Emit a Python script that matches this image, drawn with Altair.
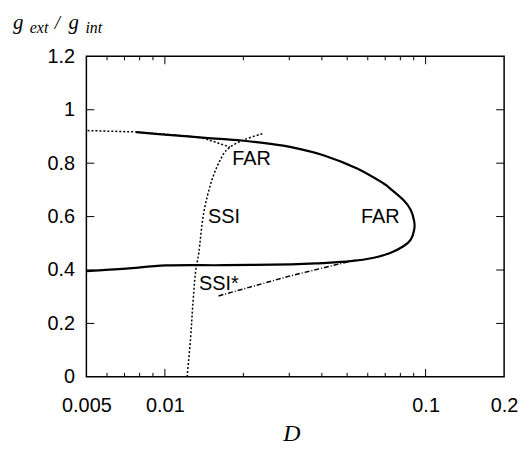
import altair as alt
import pandas as pd

# ---- data ----
far_x = [0.00776, 0.0100, 0.01429, 0.01968, 0.0250, 0.0305, 0.0408, 0.0546, 0.0690, 0.0731,
         0.0822, 0.0877, 0.0904, 0.0904, 0.0877, 0.0822, 0.0731, 0.0633, 0.0515, 0.0400,
         0.0305, 0.0170, 0.0101, 0.0071, 0.0050]
far_y = [0.916, 0.907, 0.895, 0.885, 0.873, 0.860, 0.829, 0.780, 0.724, 0.705,
         0.662, 0.625, 0.582, 0.551, 0.514, 0.489, 0.464, 0.446, 0.433, 0.426,
         0.421, 0.418, 0.417, 0.405, 0.396]

ssi_x = [0.01217, 0.01254, 0.01279, 0.01310, 0.01349, 0.01409, 0.01514, 0.01652, 0.01778, 0.0203, 0.02378]
ssi_y = [0.0, 0.142, 0.266, 0.390, 0.464, 0.613, 0.736, 0.823, 0.860, 0.889, 0.911]

ssitop_x = [0.00505, 0.0077, 0.0095, 0.01200, 0.01387, 0.0156, 0.01778]
ssitop_y = [0.922, 0.917, 0.910, 0.902, 0.895, 0.879, 0.860]

ssistar_x = [0.01606, 0.0300, 0.0515, 0.0540]
ssistar_y = [0.303, 0.377, 0.433, 0.437]

label_text = ["FAR", "SSI", "FAR", "SSI*"]
label_x = [0.0215, 0.01687, 0.0670, 0.0161]
label_y = [0.817, 0.600, 0.600, 0.347]

x_tick_labels = [0.005, 0.01, 0.1, 0.2]
x_major = [0.01, 0.1]
x_minor = [0.006, 0.007, 0.008, 0.009, 0.02, 0.03, 0.04, 0.05, 0.06, 0.07, 0.08, 0.09]
y_ticks = [0, 0.2, 0.4, 0.6, 0.8, 1.0, 1.2]

W, H = 421, 323

xs = alt.Scale(type="log", domain=[0.005, 0.2], nice=False)
ys = alt.Scale(domain=[0, 1.2], nice=False)


def line_df(xv, yv):
    return pd.DataFrame({"x": xv, "y": yv, "i": list(range(len(xv)))})


def curve(xv, yv, dash=None, width=2.0, interp="linear"):
    kw = dict(color="black", strokeWidth=width, clip=True, interpolate=interp)
    if dash:
        kw["strokeDash"] = dash
    return alt.Chart(line_df(xv, yv)).mark_line(**kw).encode(
        x=alt.X("x:Q", scale=xs), y=alt.Y("y:Q", scale=ys), order="i:Q")


axes_layer = alt.Chart(pd.DataFrame({"x": x_tick_labels, "y": [0, 0, 0, 0]})).mark_point(opacity=0).encode(
    x=alt.X("x:Q", scale=xs, title=None,
            axis=alt.Axis(values=x_tick_labels, format="~g", ticks=False, domain=False, grid=False,
                          labelPadding=19, labelFont="Liberation Sans", labelFontSize=20,
                          labelColor="black", labelFlush=False)),
    y=alt.Y("y:Q", scale=ys, title=None,
            axis=alt.Axis(values=y_ticks, format="~g", ticks=False, domain=False, grid=False,
                          labelPadding=12, labelFont="Liberation Sans", labelFontSize=20,
                          labelColor="black")),
)

xmaj = pd.DataFrame({"x": x_major})
xmin = pd.DataFrame({"x": x_minor})
yt = pd.DataFrame({"y": y_ticks[1:-1]})
tick_layers = [
    alt.Chart(xmaj).mark_rule(color="black", strokeWidth=1).encode(x=alt.X("x:Q", scale=xs), y=alt.value(H), y2=alt.value(H - 8)),
    alt.Chart(xmaj).mark_rule(color="black", strokeWidth=1).encode(x=alt.X("x:Q", scale=xs), y=alt.value(0), y2=alt.value(8)),
    alt.Chart(xmin).mark_rule(color="black", strokeWidth=1).encode(x=alt.X("x:Q", scale=xs), y=alt.value(H), y2=alt.value(H - 4)),
    alt.Chart(xmin).mark_rule(color="black", strokeWidth=1).encode(x=alt.X("x:Q", scale=xs), y=alt.value(0), y2=alt.value(4)),
    alt.Chart(yt).mark_rule(color="black", strokeWidth=1).encode(y=alt.Y("y:Q", scale=ys), x=alt.value(0), x2=alt.value(8)),
    alt.Chart(yt).mark_rule(color="black", strokeWidth=1).encode(y=alt.Y("y:Q", scale=ys), x=alt.value(W), x2=alt.value(W - 8)),
]

labels = alt.Chart(pd.DataFrame({"x": label_x, "y": label_y, "t": label_text})).mark_text(
    font="Liberation Sans", fontSize=20, color="black", align="center", baseline="middle"
).encode(x=alt.X("x:Q", scale=xs), y=alt.Y("y:Q", scale=ys), text="t:N")

# axis titles (g_ext / g_int and D)
title_parts = pd.DataFrame({
    "t": ["g", "ext", "/", "g", "int"],
    "px": [-74, -57, -32, -18, -1],
    "py": [-28, -24, -28, -28, -24],
    "s": [21, 16, 19, 21, 16],
})
title_layers = []
for _, r in title_parts.iterrows():
    title_layers.append(
        alt.Chart(pd.DataFrame({"t": [r["t"]]})).mark_text(
            font="Liberation Serif", fontStyle="italic", fontSize=int(r["s"]), color="black",
            align="left", baseline="alphabetic"
        ).encode(x=alt.value(int(r["px"])), y=alt.value(int(r["py"])), text="t:N")
    )
d_title = alt.Chart(pd.DataFrame({"t": ["D"]})).mark_text(
    font="Liberation Serif", fontStyle="italic", fontSize=24, color="black",
    align="center", baseline="alphabetic"
).encode(x=alt.value(207), y=alt.value(388), text="t:N")

chart = alt.layer(
    axes_layer,
    *tick_layers,
    curve(far_x, far_y, width=2.2, interp="cardinal"),
    curve(ssi_x, ssi_y, dash=[2, 2], width=1.5, interp="cardinal"),
    curve(ssitop_x, ssitop_y, dash=[2, 2], width=1.5),
    curve(ssistar_x, ssistar_y, dash=[5, 2, 1, 2], width=1.5),
    labels,
    *title_layers,
    d_title,
).properties(
    width=W, height=H,
    autosize=alt.AutoSizeParams(type="none"),
    padding={"left": 79, "top": 47, "right": 15, "bottom": 70},
).configure(background="white").configure_view(stroke="black", strokeWidth=1.5)

chart.save("out.html", embed_options={"renderer": "svg", "actions": False})
